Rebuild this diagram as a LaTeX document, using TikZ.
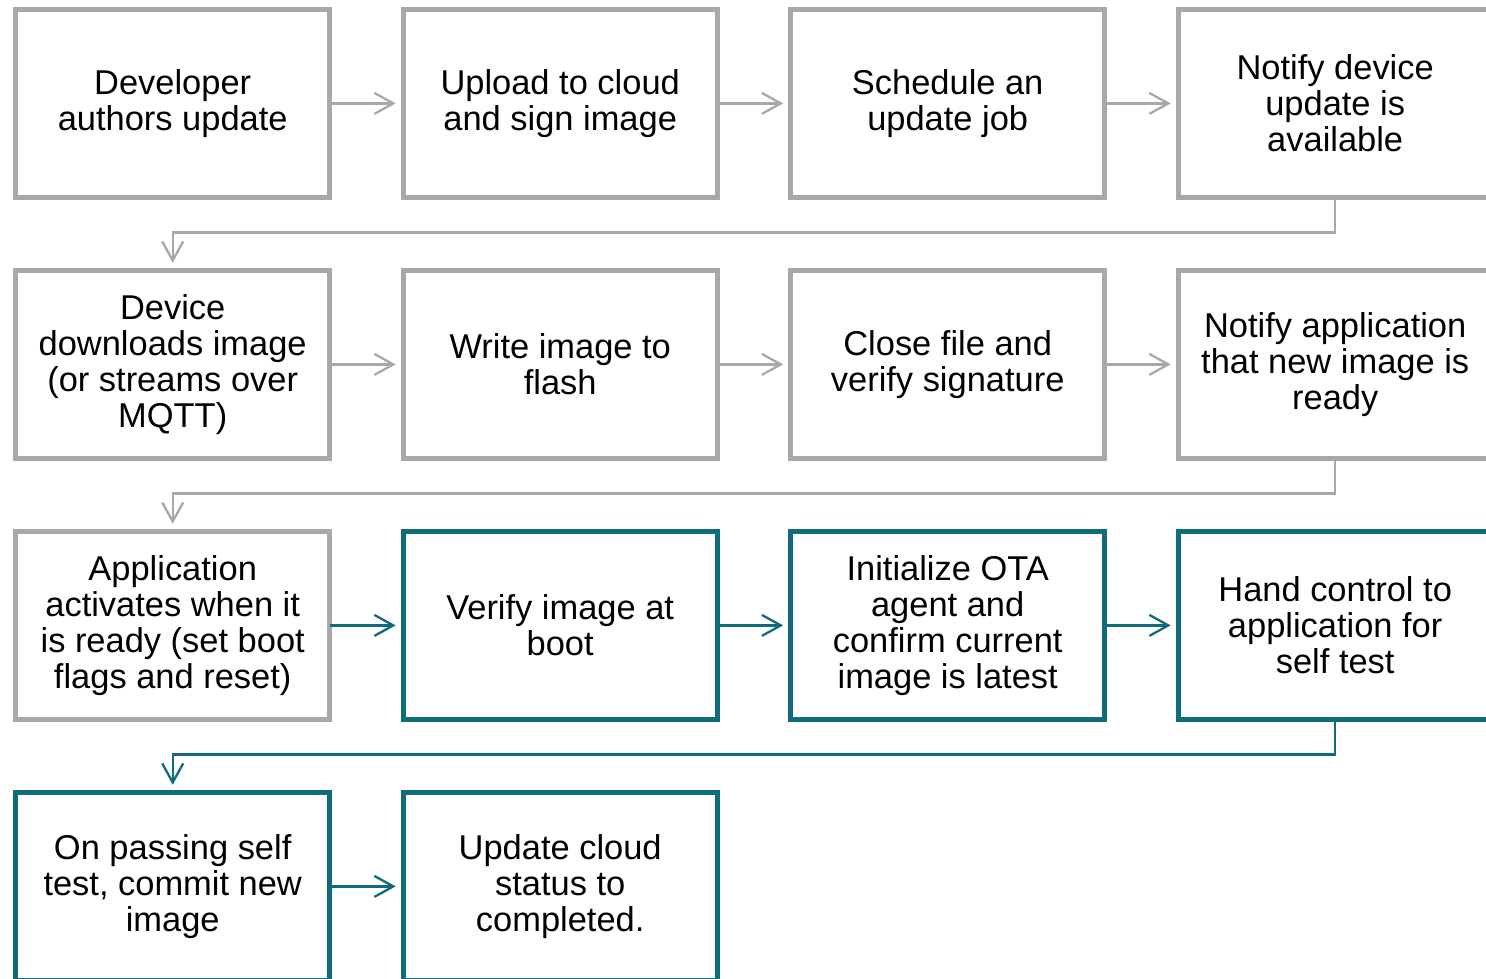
\documentclass[tikz,border=0pt]{standalone}
\usepackage{fontspec}
\setmainfont{Liberation Sans}
\usetikzlibrary{arrows.meta}
\definecolor{boxgrey}{RGB}{168,168,168}
\definecolor{boxteal}{RGB}{16,108,122}
\tikzset{
	box/.style={draw=boxgrey,line width=0.5mm,rectangle,minimum width=3.14cm,minimum height=1.882cm,inner sep=0pt,outer sep=0pt,align=center,font=\fontsize{9.8pt}{10.25pt}\selectfont},
	tealbox/.style={box,draw=boxteal},
	link/.style={draw=boxgrey,line width=0.65pt,-{Straight Barb[length=1.9mm,width=2.1mm]},shorten >=0.75mm},
	teallink/.style={link,draw=boxteal}
}
\begin{document}
\begin{tikzpicture}[scale=1]
				\useasboundingbox (0,0) rectangle (14.86,-9.79);
				
				\draw (1.727,-1.034) node[box] (dev) {Developer\\authors update};
				\draw (5.602,-1.034) node[box] (upload) {Upload to cloud\\and sign image};
				\draw (9.477,-1.034) node[box] (sched) {Schedule an\\update job};
				\draw (13.352,-1.034) node[box] (notify) {Notify device\\update is\\available};
				
				\draw (1.727,-3.644) node[box] (down) {Device\\downloads image\\(or streams over\\MQTT)};
				\draw (5.602,-3.644) node[box] (write) {Write image to\\flash};
				\draw (9.477,-3.644) node[box] (close) {Close file and\\verify signature};
				\draw (13.352,-3.644) node[box] (app) {Notify application\\that new image is\\ready};
				
				\draw (1.727,-6.254) node[box] (act) {Application\\activates when it\\is ready (set boot\\flags and reset)};
				\draw (5.602,-6.254) node[tealbox] (verify) {Verify image at\\boot};
				\draw (9.477,-6.254) node[tealbox] (init) {Initialize OTA\\agent and\\confirm current\\image is latest};
				\draw (13.352,-6.254) node[tealbox] (hand) {Hand control to\\application for\\self test};
				
				\draw (1.727,-8.864) node[tealbox] (commit) {On passing self\\test, commit new\\image};
				\draw (5.602,-8.864) node[tealbox] (cloud) {Update cloud\\status to\\completed.};
				
				\draw[link] (dev.east) -- (upload.west);
				\draw[link] (upload.east) -- (sched.west);
				\draw[link] (sched.east) -- (notify.west);
				\draw[link] (notify.south) -- ++(0,-0.35) -| (down.north);
				
				\draw[link] (down.east) -- (write.west);
				\draw[link] (write.east) -- (close.west);
				\draw[link] (close.east) -- (app.west);
				\draw[link] (app.south) -- ++(0,-0.35) -| (act.north);
				
				\draw[teallink] (act.east) -- (verify.west);
				\draw[teallink] (verify.east) -- (init.west);
				\draw[teallink] (init.east) -- (hand.west);
				\draw[teallink] (hand.south) -- ++(0,-0.35) -| (commit.north);
				
				\draw[teallink] (commit.east) -- (cloud.west);
			\end{tikzpicture}
\end{document}
